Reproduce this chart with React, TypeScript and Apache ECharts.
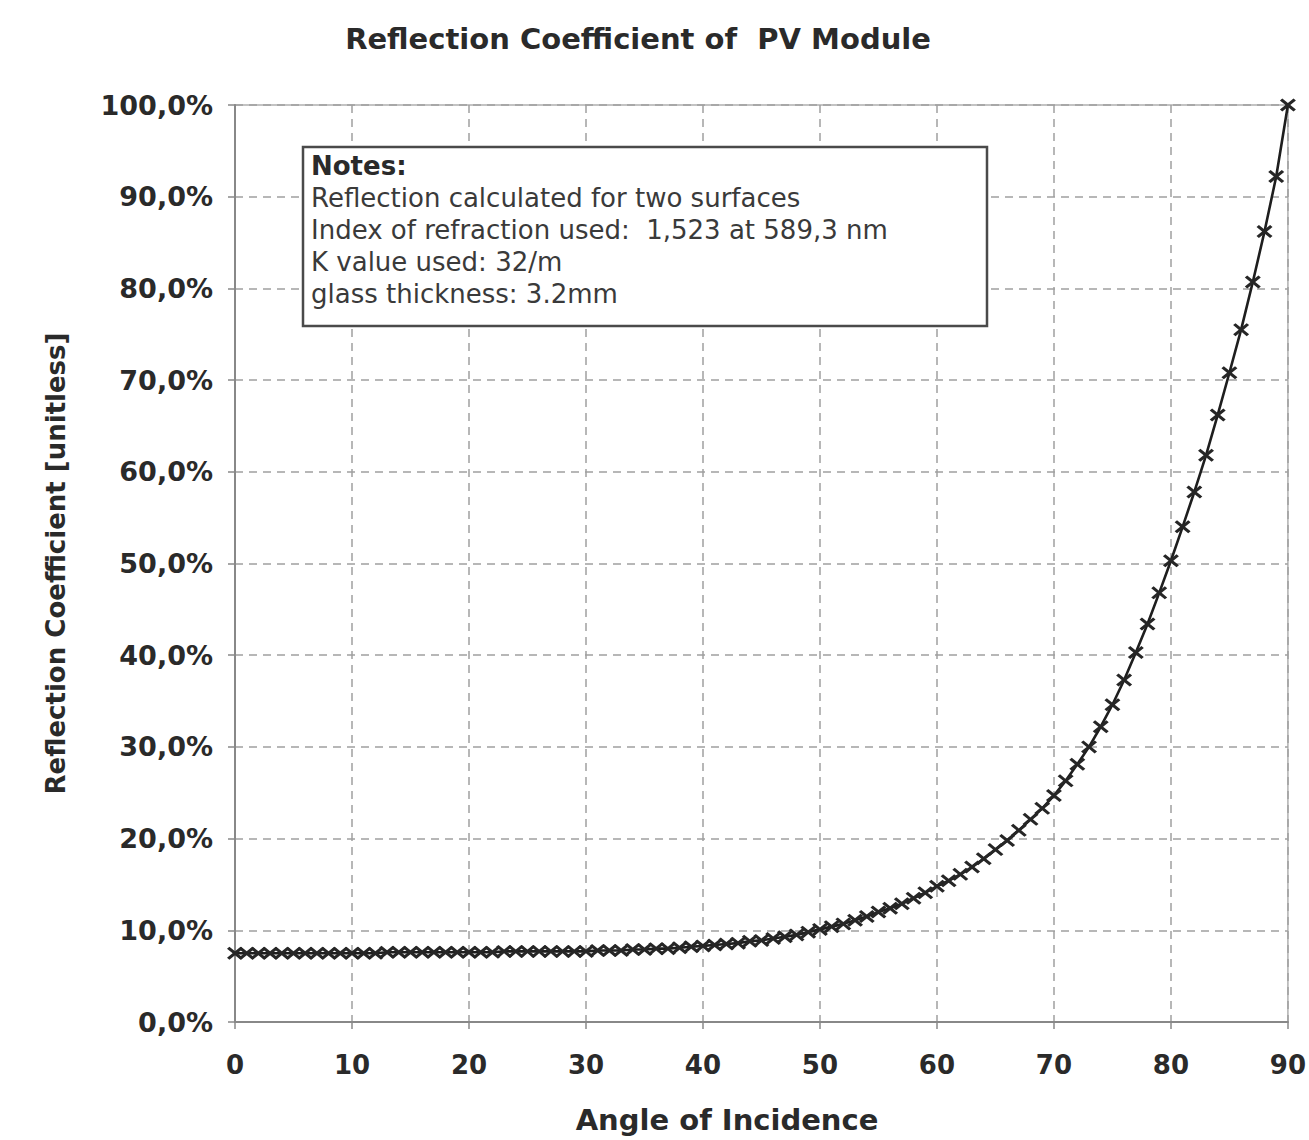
import React, { useEffect, useRef } from "react";
import * as echarts from "echarts";

const angles = [
  0, 1, 2, 3, 4, 5, 6, 7, 8, 9, 10, 11, 12, 13, 14, 15, 16, 17, 18, 19, 20,
  21, 22, 23, 24, 25, 26, 27, 28, 29, 30, 31, 32, 33, 34, 35, 36, 37, 38, 39, 40,
  41, 42, 43, 44, 45, 46, 47, 48, 49, 50, 51, 52, 53, 54, 55, 56, 57, 58, 59, 60,
  61, 62, 63, 64, 65, 66, 67, 68, 69, 70, 71, 72, 73, 74, 75, 76, 77, 78, 79, 80,
  81, 82, 83, 84, 85, 86, 87, 88, 89, 90,
];

const reflection = [
  7.5, 7.5, 7.5, 7.5, 7.5, 7.5, 7.5, 7.5, 7.5, 7.5, 7.5, 7.5, 7.5, 7.6, 7.6, 7.6, 7.6, 7.6, 7.6, 7.6, 7.6,
  7.6, 7.6, 7.7, 7.7, 7.7, 7.7, 7.7, 7.7, 7.7, 7.7, 7.8, 7.8, 7.8, 7.9, 7.9, 8.0, 8.0, 8.1, 8.2, 8.3,
  8.4, 8.5, 8.6, 8.8, 8.9, 9.1, 9.3, 9.5, 9.8, 10.1, 10.4, 10.7, 11.1, 11.5, 12.0, 12.4, 12.9, 13.5, 14.1, 14.8,
  15.4, 16.1, 16.9, 17.8, 18.8, 19.8, 20.9, 22.1, 23.3, 24.7, 26.3, 28.1, 30.0, 32.2, 34.6, 37.3, 40.3, 43.4, 46.8, 50.3,
  54.0, 57.8, 61.8, 66.2, 70.8, 75.5, 80.7, 86.2, 92.2, 100.0,
];

const chartTitle = "Reflection Coefficient of  PV Module";
const xAxisTitle = "Angle of Incidence";
const yAxisTitle = "Reflection Coefficient [unitless]";
const noteHeader = "Notes:";
const noteLines = [
  "Reflection calculated for two surfaces",
  "Index of refraction used:  1,523 at 589,3 nm",
  "K value used: 32/m",
  "glass thickness: 3.2mm",
];

const FONT = "'DejaVu Sans', 'Liberation Sans', Arial, sans-serif";

export default function App() {
  const ref = useRef<HTMLDivElement>(null);

  useEffect(() => {
    if (!ref.current) return;
    const chart = echarts.init(ref.current, null, { renderer: "svg" });

    const data = angles.map((a, i) => [a, reflection[i]]);

    const noteTexts: any[] = [
      {
        type: "text",
        x: 311,
        y: 166,
        style: {
          text: noteHeader,
          fontFamily: FONT,
          fontSize: 26,
          fontWeight: "bold",
          fill: "#2a2a2a",
          verticalAlign: "middle",
        },
      },
      ...noteLines.map((t, i) => ({
        type: "text",
        x: 311,
        y: 198 + i * 32,
        style: {
          text: t,
          fontFamily: FONT,
          fontSize: 26,
          fill: "#3a3a3a",
          verticalAlign: "middle",
        },
      })),
    ];

    chart.setOption({
      animation: false,
      backgroundColor: "#ffffff",
      grid: {
        left: 235,
        right: 19,
        top: 105,
        bottom: 118,
        show: true,
        borderColor: "#b0b0b0",
        borderWidth: 1.5,
        backgroundColor: "transparent",
      },
      xAxis: {
        type: "value",
        min: 0,
        max: 90,
        interval: 10,
        axisLine: { show: true, lineStyle: { color: "#888", width: 2 } },
        axisTick: { show: true, length: 7, lineStyle: { color: "#888", width: 1.5 } },
        axisLabel: {
          margin: 30,
          fontFamily: FONT,
          fontSize: 26,
          fontWeight: "bold",
          color: "#2a2a2a",
        },
        splitLine: {
          show: true,
          lineStyle: { color: "#a0a0a0", width: 1.5, type: [8, 6] },
        },
      },
      yAxis: {
        type: "value",
        min: 0,
        max: 100,
        interval: 10,
        name: yAxisTitle,
        nameLocation: "middle",
        nameGap: 166,
        nameRotate: 90,
        nameTextStyle: {
          fontFamily: FONT,
          fontSize: 26,
          fontWeight: "bold",
          color: "#2a2a2a",
        },
        axisLine: { show: true, lineStyle: { color: "#888", width: 2 } },
        axisTick: { show: true, length: 7, lineStyle: { color: "#888", width: 1.5 } },
        axisLabel: {
          margin: 22,
          fontFamily: FONT,
          fontSize: 27,
          fontWeight: "bold",
          color: "#2a2a2a",
          formatter: (v: number) => v.toFixed(1).replace(".", ",") + "%",
        },
        splitLine: {
          show: true,
          lineStyle: { color: "#a0a0a0", width: 1.5, type: [8, 6] },
        },
      },
      series: [
        {
          type: "line",
          data,
          symbol:
            "path://M0,3L3,0L10,7L17,0L20,3L13,10L20,17L17,20L10,13L3,20L0,17L7,10Z",
          symbolSize: [16, 13],
          showAllSymbol: true,
          itemStyle: { color: "#262626" },
          lineStyle: { color: "#1e1e1e", width: 2.6 },
          z: 3,
        },
      ],
      graphic: [
        {
          type: "text",
          x: 638,
          y: 39,
          style: {
            text: chartTitle,
            fontFamily: FONT,
            fontSize: 29,
            fontWeight: "bold",
            fill: "#2a2a2a",
            align: "center",
            verticalAlign: "middle",
          },
        },
        {
          type: "text",
          x: 727,
          y: 1120,
          style: {
            text: xAxisTitle,
            fontFamily: FONT,
            fontSize: 29,
            fontWeight: "bold",
            fill: "#2a2a2a",
            align: "center",
            verticalAlign: "middle",
          },
        },
        {
          type: "rect",
          shape: { x: 303, y: 147, width: 684, height: 179 },
          style: { fill: "#ffffff", stroke: "#4a4a4a", lineWidth: 2.5 },
          z: 10,
        },
        ...noteTexts.map((t) => ({ ...t, z: 11 })),
      ],
    });

    return () => chart.dispose();
  }, []);

  return (
    <div
      ref={ref}
      style={{
        position: "absolute",
        left: 0,
        top: 0,
        width: 1309,
        height: 1140,
        background: "#fff",
      }}
    />
  );
}
